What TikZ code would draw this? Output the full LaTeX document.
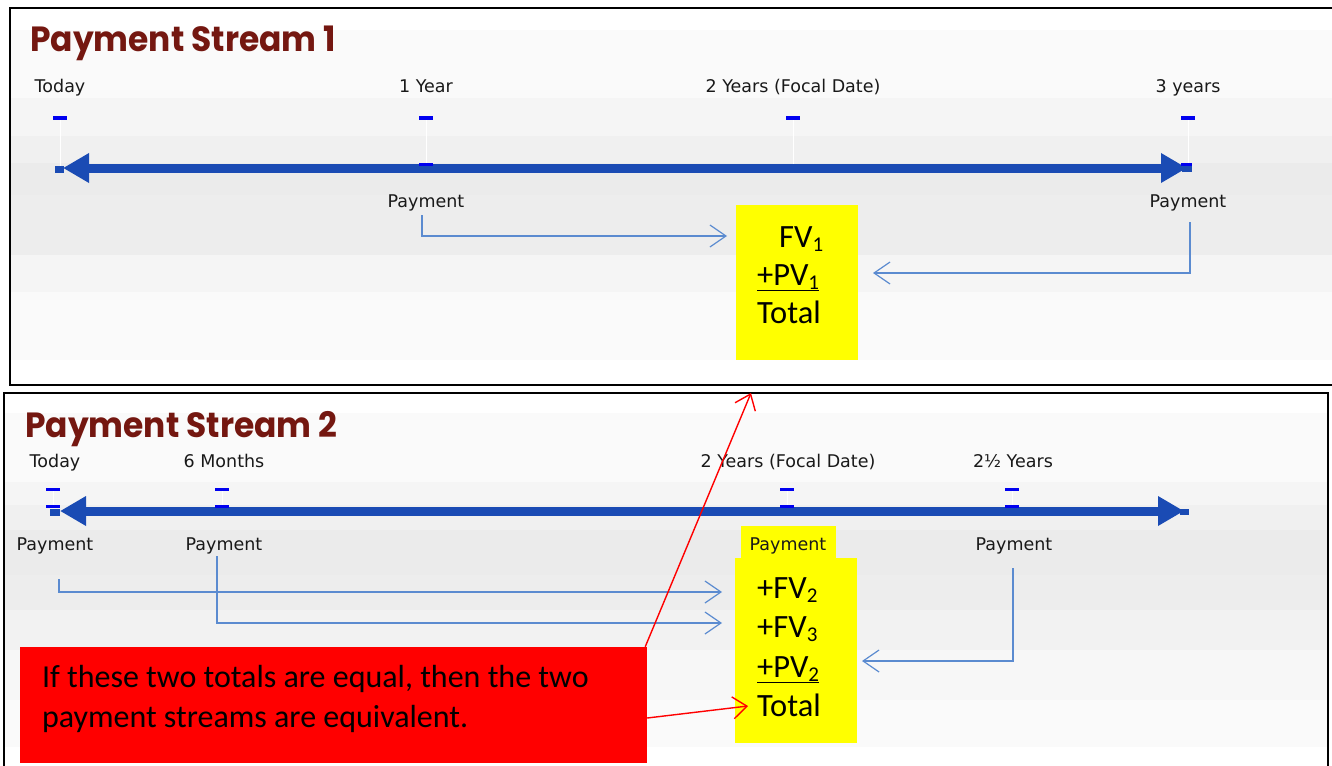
\documentclass[tikz,border=0pt]{standalone}
\usepackage{fontspec}
\setmainfont{Carlito}
\newfontfamily\tahfont{DejaVu Sans}
\newfontfamily\headfont[FakeStretch=0.94]{Poppins}
\usetikzlibrary{arrows.meta,positioning}
\definecolor{axisblue}{HTML}{1A4BB4}
\definecolor{tickblue}{HTML}{0000F0}
\definecolor{linkblue}{HTML}{5B8BD0}
\definecolor{headred}{HTML}{741710}
\definecolor{notered}{HTML}{FF0000}
\definecolor{sumyellow}{HTML}{FFFF00}
\newcommand\lowix[1]{\raisebox{-4pt}{\fontsize{21}{21}\selectfont#1}}
\tikzset{
  lab/.style={font=\tahfont\fontsize{17.5}{20}\selectfont,text=black!90,inner sep=0pt,anchor=base},
  head/.style={font=\headfont\bfseries\fontsize{35}{40}\selectfont,text=headred,anchor=base west,inner sep=0pt},
  axisline/.style={line width=9pt,axisblue,{Triangle[length=26pt,width=28pt]}-{Triangle[length=26pt,width=28pt]}},
  link/.style={linkblue,line width=1.2pt,-{Straight Barb[length=16pt,width=22pt]}},
  redlink/.style={notered,line width=1.4pt,-{Straight Barb[length=14pt,width=22pt]}},
  sumbox/.style={fill=sumyellow,inner sep=0pt},
  sumline/.style={font=\fontsize{32.5}{36}\selectfont,anchor=base west,inner sep=0pt},
  notebox/.style={fill=notered,inner sep=0pt},
  notetext/.style={font=\fontsize{32}{40}\selectfont,align=left,inner sep=0pt},
  panel/.style={draw=black,line width=1.2pt}
}

\begin{document}
\begin{tikzpicture}[x=1pt,y=-1pt]
\useasboundingbox (0,0) rectangle (1332,765);
% backdrops and frames
\foreach \ya/\yb/\sh in {30/98/2,98/136/4,136/163/6,163/195/8,195/255/7,255/292/4,292/360/2}
  \fill[black!\sh] (11,\ya) rectangle (1332,\yb);
\foreach \ya/\yb/\sh in {413/482/2,482/505/4,505/530/6,530/575/8,575/610/7,610/650/5,650/700/3,700/747/2}
  \fill[black!\sh] (5,\ya) rectangle (1327,\yb);
\draw[panel] (1340,8) -- (10,8) -- (10,385) -- (1340,385);
\draw[panel] (4,780) -- (4,393) -- (1328,393) -- (1328,780);

% stream 1 time line
\node[head] (title1) at (30,52) {Payment Stream 1};
\foreach \x in {60,426,793,1188}{
  \draw[white,line width=1pt] (\x,120) -- (\x,166);
  \fill[tickblue] (\x-7,116) rectangle (\x+7,120);
}
\foreach \x in {201,342,484,623,765,905,1047}
  \fill[axisblue!85!black] (\x-5,168) rectangle (\x+5,173);
\draw[axisline] (63,168) -- (1187,168);
\fill[axisblue] (55,166) rectangle (64,173);
\fill[axisblue] (1182,165) rectangle (1192,172);
\fill[tickblue] (419,163) rectangle (433,166);
\fill[tickblue] (1181,163) rectangle (1192,166);
\node[lab] (today1) at (60,93) {Today};
\node[lab] (year1) at (426,93) {1 Year};
\node[lab] (focal1) at (793,93) {2 Years (Focal Date)};
\node[lab] (year3) at (1188,93) {3 years};
\node[lab] (pay1a) at (426,207) {Payment};
\node[lab] (pay1b) at (1188,207) {Payment};

\node[sumbox,minimum width=122pt,minimum height=155pt] (sum1) at (797,282.5) {};
\node[sumline] (fv1) at (779,247) {FV\lowix{1}};
\node[sumline] (pv1) at (757,285) {\underline{+PV\lowix{1}}};
\node[sumline] (tot1) at (757,323) {Total};
\coordinate (fv1in) at (727,236);
\coordinate (pv1in) at (873,273);
\draw[link] ([xshift=-4pt,yshift=-8pt]pay1a.base) |- (fv1in);
\draw[link] ([xshift=2pt,yshift=-15pt]pay1b.base) |- (pv1in);

% stream 2 time line
\node[head] (title2) at (25,437) {Payment Stream 2};
\foreach \x in {53,222,787,1012}{
  \draw[white,line width=1pt] (\x,491) -- (\x,506);
  \fill[tickblue] (\x-7,488) rectangle (\x+7,491);
}
\foreach \x in {196,337,478,619,760,901,1042}
  \fill[axisblue!85!black] (\x-5,511) rectangle (\x+5,516);
\draw[axisline] (60,511) -- (1184,511);
\fill[axisblue] (50,509) rectangle (60,516);
\fill[axisblue] (1180,509) rectangle (1189,515);
\foreach \x in {53,222,787,1012}
  \fill[tickblue] (\x-7,505) rectangle (\x+7,508);
\node[lab] (today2) at (55,467) {Today};
\node[lab] (month6) at (224,467) {6 Months};
\node[lab] (focal2) at (788,467) {2 Years (Focal Date)};
\node[lab] (yearhalf) at (1013,467) {2\textonehalf{} Years};

\node[sumbox,minimum width=95pt,minimum height=33pt] (paybg) at (788.5,542.5) {};
\node[sumbox,minimum width=122pt,minimum height=185pt] (sum2) at (796,650.5) {};
\node[lab] (pay2a) at (55,550) {Payment};
\node[lab] (pay2b) at (224,550) {Payment};
\node[lab] (pay2c) at (788,550) {Payment};
\node[lab] (pay2d) at (1014,550) {Payment};
\node[sumline] (fv2) at (757,598) {+FV\lowix{2}};
\node[sumline] (fv3) at (757,637) {+FV\lowix{3}};
\node[sumline] (pv2) at (757,677) {\underline{+PV\lowix{2}}};
\node[sumline] (tot2) at (757,716) {Total};
\coordinate (fv2in) at (722,592);
\coordinate (fv3in) at (722,623);
\coordinate (pv2in) at (862,661);
\draw[link] ([xshift=4pt,yshift=-29pt]pay2a.base) |- (fv2in);
\draw[link] ([xshift=-7pt,yshift=-6pt]pay2b.base) |- (fv3in);
\draw[link] ([xshift=-1pt,yshift=-18pt]pay2d.base) |- (pv2in);

% the note
\node[notebox,minimum width=627pt,minimum height=116pt] (note) at (333.5,705) {};
\node[notetext,anchor=north west] (notetx) at ([xshift=22pt,yshift=-18pt]note.north west)
  {If these two totals are equal, then the two\\payment streams are equivalent.};
\coordinate (upend) at (751,393);
\coordinate (totend) at (748,706);
\draw[redlink] ([xshift=-2pt]note.north east) -- (upend);
\draw[redlink] ([yshift=-13pt]note.east) -- (totend);
\end{tikzpicture}
\end{document}
